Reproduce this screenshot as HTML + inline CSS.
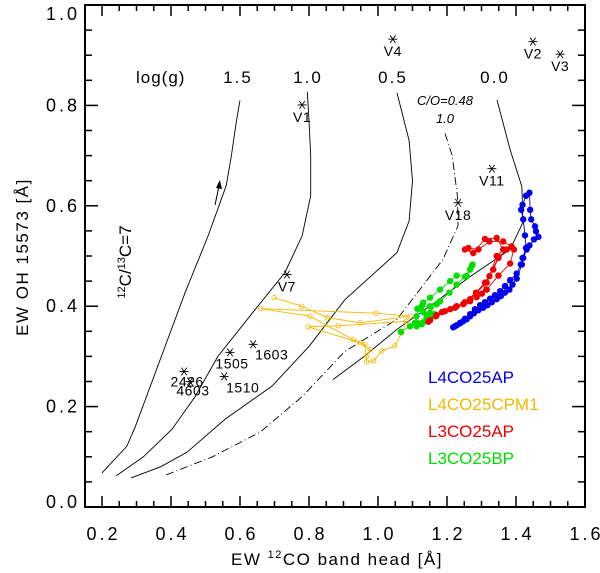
<!DOCTYPE html>
<html><head><meta charset="utf-8"><style>
body{margin:0;background:#fff}
svg{display:block;font-family:"Liberation Sans",sans-serif}
</style></head><body>
<svg id="chart" width="600" height="573" viewBox="0 0 600 573">
<g id="g-curves"></g>
<g id="g-series"></g>
<g id="g-stars"></g>
<g id="g-axes"></g>
<text x="136" y="83" font-size="17" letter-spacing="1">log(g)</text>
<text x="238" y="83" font-size="17" letter-spacing="2" text-anchor="middle">1.5</text>
<text x="308" y="83" font-size="17" letter-spacing="2" text-anchor="middle">1.0</text>
<text x="393" y="83" font-size="17" letter-spacing="2" text-anchor="middle">0.5</text>
<text x="495" y="83" font-size="17" letter-spacing="2" text-anchor="middle">0.0</text>
<text x="445" y="105" font-size="13" font-style="italic" text-anchor="middle">C/O=0.48</text>
<text x="445" y="123" font-size="13" font-style="italic" text-anchor="middle">1.0</text>
<text transform="translate(131,262) rotate(-90)" font-size="17" text-anchor="middle"><tspan font-size="11" dy="-6">12</tspan><tspan dy="6">C/</tspan><tspan font-size="11" dy="-6">13</tspan><tspan dy="6">C=7</tspan></text>
<line x1="215" y1="205" x2="219" y2="186" stroke="#000" stroke-width="1"/>
<polygon points="219.8,180 216,188 222,189" fill="#000"/>
<text x="428" y="383" font-size="17" fill="#0000ee">L4CO25AP</text>
<text x="428" y="410" font-size="17" fill="#f5b800">L4CO25CPM1</text>
<text x="428" y="437" font-size="17" fill="#ee0000">L3CO25AP</text>
<text x="428" y="464" font-size="17" fill="#00dd00">L3CO25BP</text>
<text transform="translate(28,257) rotate(-90)" font-size="17" letter-spacing="1.5" text-anchor="middle">EW OH 15573 [Å]</text>
<text x="337" y="565" font-size="17" letter-spacing="1.5" text-anchor="middle">EW <tspan font-size="11" dy="-7">12</tspan><tspan dy="7">CO band head [Å]</tspan></text>
</svg>
<script>
const xTicks=[0.2,0.4,0.6,0.8,1.0,1.2,1.4,1.6];
const yTicks=[0.0,0.2,0.4,0.6,0.8,1.0];
const curve15=[[0.2,0.068],[0.272,0.121],[0.296,0.159],[0.383,0.32],[0.441,0.427],[0.507,0.539],[0.56,0.64],[0.575,0.7],[0.59,0.77],[0.6,0.81]];
const curve10=[[0.241,0.062],[0.32,0.1],[0.403,0.155],[0.47,0.22],[0.536,0.3],[0.64,0.39],[0.73,0.467],[0.78,0.54],[0.805,0.62],[0.805,0.7],[0.8,0.77],[0.795,0.827]];
const curve05=[[0.284,0.058],[0.37,0.08],[0.446,0.109],[0.557,0.175],[0.693,0.241],[0.8,0.32],[0.904,0.413],[0.98,0.46],[1.055,0.507],[1.09,0.57],[1.1,0.65],[1.09,0.73],[1.055,0.825]];
const curveCO=[[0.386,0.064],[0.52,0.1],[0.658,0.149],[0.78,0.22],[0.904,0.31],[1.055,0.374],[1.188,0.493],[1.232,0.56],[1.23,0.62],[1.215,0.7],[1.194,0.745]];
const curve00=[[0.87,0.254],[0.96,0.3],[1.055,0.354],[1.16,0.405],[1.267,0.459],[1.383,0.513],[1.42,0.567],[1.417,0.638],[1.383,0.712],[1.345,0.811]];
const blueSeries=[[1.218,0.358],[1.228,0.362],[1.238,0.366],[1.247,0.370],[1.257,0.374],[1.267,0.380],[1.278,0.386],[1.291,0.392],[1.305,0.397],[1.317,0.402],[1.330,0.408],[1.344,0.414],[1.356,0.420],[1.368,0.427],[1.381,0.433],[1.390,0.443],[1.402,0.455],[1.417,0.483],[1.421,0.496],[1.431,0.513],[1.439,0.521],[1.452,0.533],[1.465,0.538],[1.458,0.549],[1.455,0.559],[1.444,0.573],[1.441,0.592],[1.439,0.626],[1.429,0.620],[1.419,0.602],[1.415,0.592],[1.421,0.573],[1.426,0.541],[1.429,0.516],[1.419,0.496],[1.414,0.483],[1.402,0.465],[1.383,0.452],[1.368,0.440],[1.354,0.430],[1.339,0.422],[1.325,0.415],[1.310,0.408],[1.296,0.402],[1.281,0.394],[1.267,0.384],[1.252,0.375],[1.238,0.367],[1.223,0.360]];
const redSeries=[[1.146,0.369],[1.168,0.380],[1.194,0.390],[1.223,0.397],[1.252,0.408],[1.284,0.427],[1.310,0.447],[1.334,0.473],[1.349,0.496],[1.373,0.513],[1.394,0.513],[1.383,0.485],[1.349,0.461],[1.315,0.433],[1.286,0.418],[1.247,0.404],[1.209,0.394],[1.170,0.382],[1.151,0.372],[1.185,0.388],[1.228,0.400],[1.267,0.410],[1.301,0.425],[1.323,0.460],[1.344,0.500],[1.363,0.513],[1.344,0.536],[1.310,0.534],[1.276,0.506],[1.252,0.513],[1.262,0.516],[1.291,0.513],[1.323,0.529],[1.363,0.529],[1.387,0.519],[1.349,0.498],[1.315,0.447],[1.267,0.414]];
const greenSeries=[[1.066,0.349],[1.093,0.360],[1.112,0.367],[1.127,0.364],[1.141,0.370],[1.151,0.377],[1.165,0.384],[1.151,0.387],[1.131,0.388],[1.114,0.395],[1.127,0.400],[1.151,0.400],[1.180,0.410],[1.207,0.427],[1.228,0.443],[1.252,0.459],[1.267,0.473],[1.274,0.483],[1.272,0.480],[1.257,0.460],[1.228,0.461],[1.209,0.450],[1.180,0.433],[1.151,0.417],[1.131,0.407],[1.117,0.395],[1.112,0.380],[1.107,0.367],[1.127,0.367],[1.141,0.380],[1.170,0.404],[1.112,0.360]];
const orangeSeries=[[0.699,0.417],[0.779,0.400],[0.853,0.377],[0.948,0.367],[1.093,0.38],[0.994,0.386],[0.660,0.395],[0.803,0.380],[0.929,0.333],[0.962,0.324],[0.967,0.289],[0.987,0.291],[1.011,0.311],[1.049,0.321],[1.069,0.347],[1.083,0.370],[0.885,0.361],[0.798,0.359],[0.948,0.327],[0.977,0.314],[0.967,0.30]];
const starNames=["V4","V2","V3","V1","V11","V18","V7","1603","1505","1510","2426","4603"];
const starX=[1.043,1.449,1.528,0.780,1.330,1.232,0.736,0.638,0.571,0.554,0.438,0.455];
const starY=[0.932,0.927,0.902,0.801,0.674,0.606,0.463,0.324,0.308,0.260,0.270,0.250];

const NS="http://www.w3.org/2000/svg";
const X=v=>102+(v-0.2)*345;
const Y=v=>507-v*502;
function mk(tag,attrs,parent){const e=document.createElementNS(NS,tag);for(const k in attrs)e.setAttribute(k,attrs[k]);parent.appendChild(e);return e;}
const pts=a=>a.map(p=>X(p[0]).toFixed(1)+","+Y(p[1]).toFixed(1)).join(" ");

const gc=document.getElementById('g-curves');
[[curve15,'curve-logg-1.5',null],[curve10,'curve-logg-1.0',null],[curve05,'curve-logg-0.5',null],[curve00,'curve-logg-0.0',null],[curveCO,'curve-co-0.48','8,3,1,3']].forEach(c=>{
  const l=mk('polyline',{points:pts(c[0]),fill:'none',stroke:'#000','stroke-width':'0.9'},gc);
  if(c[2])l.setAttribute('stroke-dasharray',c[2]);
  
  
});

const gs=document.getElementById('g-series');
[[orangeSeries,'#f5b800','orange',true],[greenSeries,'#00dd00','green',false],[redSeries,'#ee0000','red',false],[blueSeries,'#0000ee','blue',false]].forEach(s=>{
  const l=mk('polyline',{points:pts(s[0]),fill:'none',stroke:s[1],'stroke-width':'0.9'},gs);
  
  
  s[0].forEach(p=>{
    const c=mk('circle',{cx:X(p[0]),cy:Y(p[1]),r:s[3]?2.3:2.8,fill:s[3]?'none':s[1],stroke:s[1],'stroke-width':'0.8'},gs);
    
    
  });
});

const gt=document.getElementById('g-stars');
starNames.forEach((n,i)=>{
  const x=X(starX[i]),y=Y(starY[i]);
  const g=mk('g',{},gt);
  
  
  const r=4.5;
  mk('line',{x1:x-r,y1:y,x2:x+r,y2:y,stroke:'#000','stroke-width':'0.9'},g);
  mk('line',{x1:x-r*0.6,y1:y-r*0.85,x2:x+r*0.6,y2:y+r*0.85,stroke:'#000','stroke-width':'0.9'},g);
  mk('line',{x1:x+r*0.6,y1:y-r*0.85,x2:x-r*0.6,y2:y+r*0.85,stroke:'#000','stroke-width':'0.9'},g);
  let lx=x,ly=y+17,anchor='middle';
  if(n==='1603'){lx=x+2;ly=y+15;anchor='start';}
  if(n==='1505'){lx=x+2;ly=y+16;}
  if(n==='1510'){lx=x+2;ly=y+16;anchor='start';}
  if(n==='2426'){lx=x+3;ly=y+15;}
  if(n==='4603'){lx=x+3;ly=y+14;}
  mk('text',{x:lx,y:ly,'font-size':'14','letter-spacing':'0.5','text-anchor':anchor},g).textContent=n;
});

const ga=document.getElementById('g-axes');
const fr=mk('rect',{x:85,y:5,width:500,height:502,fill:'none',stroke:'#000','stroke-width':'2'},ga);


for(let v=0.15;v<=1.6001;v+=0.05){
  const major=Math.abs(v*5-Math.round(v*5))<1e-6;
  const L=major?11:6,x=X(v);
  mk('line',{x1:x,y1:507,x2:x,y2:507-L,stroke:'#000','stroke-width':'1.5'},ga);
  mk('line',{x1:x,y1:5,x2:x,y2:5+L,stroke:'#000','stroke-width':'1.5'},ga);
}
for(let v=0;v<=1.0001;v+=0.05){
  const major=Math.abs(v*5-Math.round(v*5))<1e-6;
  const L=major?13:7,y=Y(v);
  mk('line',{x1:85,y1:y,x2:85+L,y2:y,stroke:'#000','stroke-width':'1.5'},ga);
  mk('line',{x1:585,y1:y,x2:585-L,y2:y,stroke:'#000','stroke-width':'1.5'},ga);
}
xTicks.forEach(v=>{
  const t=mk('text',{x:X(v)+1.5,y:540,'font-size':'18','letter-spacing':'3','text-anchor':'middle'},ga);
  t.textContent=v.toFixed(1);
  
  
});
yTicks.forEach(v=>{
  let by=Y(v)+6;
  if(v===1.0)by=20;
  if(v===0.0)by=508;
  const t=mk('text',{x:80,y:by,'font-size':'18','letter-spacing':'3','text-anchor':'end'},ga);
  t.textContent=v.toFixed(1);
  
  
});
</script>
</body></html>
